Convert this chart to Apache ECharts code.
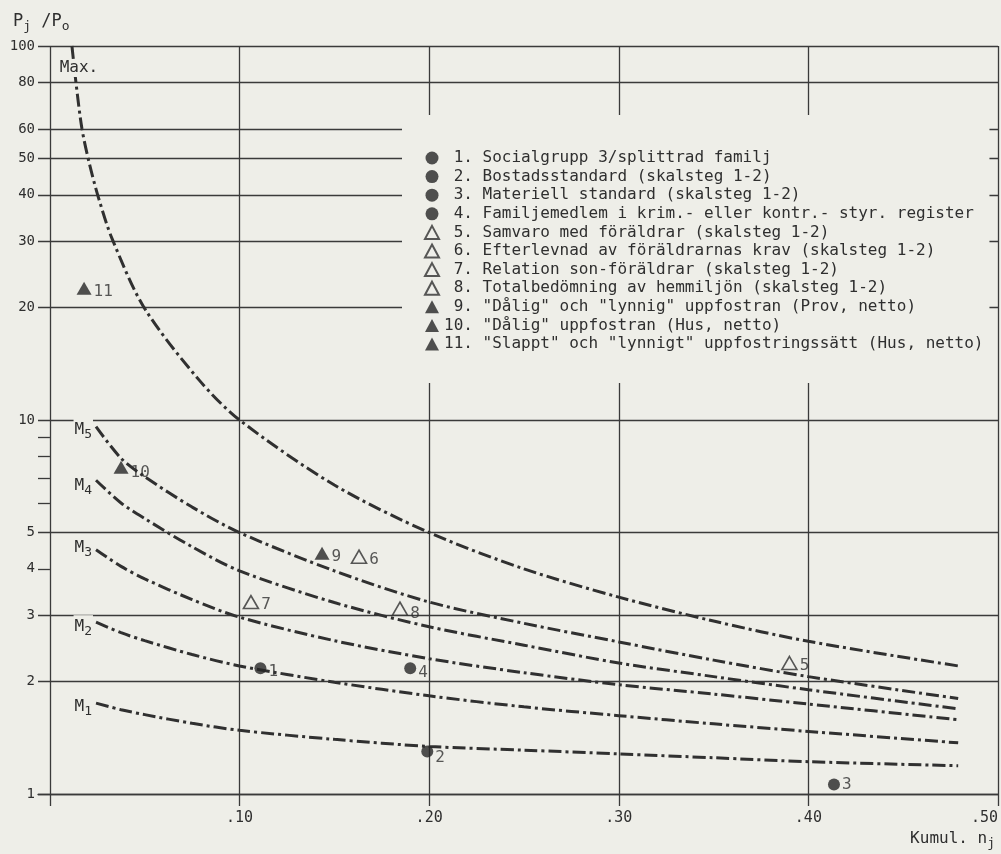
<!DOCTYPE html>
<html><head><meta charset="utf-8">
<script src="https://cdn.jsdelivr.net/npm/echarts@6/dist/echarts.min.js"></script>
<style>html,body{margin:0;padding:0;background:#eeeee8;}#c{width:1001px;height:854px;}</style>
</head><body><div id="c"></div>
<script>
// ---------- data ----------
const xTickValues = [0, 0.1, 0.2, 0.3, 0.4, 0.5];
const xTickLabels = ['', '.10', '.20', '.30', '.40', '.50'];
const yGridValues = [100, 80, 60, 50, 40, 30, 20, 10, 5, 3, 2, 1];
const yGridLabels = ['100', '80', '60', '50', '40', '30', '20', '10', '5', '3', '2', '1'];
const yShortTickValues = [4];
const yShortTickLabels = ['4'];
const yMinorTickValues = [9, 8, 7, 6];

const curveLabels = ['Max.', 'M{s|5}', 'M{s|4}', 'M{s|3}', 'M{s|2}', 'M{s|1}'];
const maxX = [0.0116, 0.0137, 0.0169, 0.021, 0.0258, 0.0327, 0.0496, 0.0786, 0.10, 0.15, 0.20, 0.25, 0.30, 0.35, 0.40, 0.479];
const maxY = [100, 80, 60, 48, 39, 30.6, 20, 12.8, 10, 6.7, 5.0, 4.0, 3.36, 2.9, 2.56, 2.2];
const m5X = [0.0243, 0.0375, 0.05, 0.075, 0.10, 0.15, 0.20, 0.25, 0.30, 0.35, 0.40, 0.479];
const m5Y = [9.6, 7.9, 7.05, 5.85, 5.0, 3.95, 3.26, 2.86, 2.55, 2.28, 2.06, 1.80];
const m4X = [0.0243, 0.0375, 0.05, 0.075, 0.10, 0.15, 0.20, 0.25, 0.30, 0.35, 0.40, 0.479];
const m4Y = [6.9, 6.0, 5.45, 4.58, 3.95, 3.25, 2.80, 2.50, 2.24, 2.06, 1.90, 1.69];
const m3X = [0.0243, 0.0375, 0.05, 0.075, 0.10, 0.15, 0.20, 0.25, 0.30, 0.35, 0.40, 0.479];
const m3Y = [4.5, 4.06, 3.76, 3.31, 2.97, 2.57, 2.30, 2.11, 1.96, 1.85, 1.74, 1.58];
const m2X = [0.0243, 0.0375, 0.05, 0.075, 0.10, 0.15, 0.20, 0.25, 0.30, 0.35, 0.40, 0.479];
const m2Y = [2.88, 2.70, 2.57, 2.36, 2.2, 1.99, 1.83, 1.71, 1.62, 1.54, 1.47, 1.37];
const m1X = [0.0243, 0.0375, 0.05, 0.075, 0.10, 0.15, 0.20, 0.25, 0.30, 0.35, 0.40, 0.479];
const m1Y = [1.75, 1.68, 1.63, 1.545, 1.48, 1.40, 1.34, 1.31, 1.28, 1.25, 1.22, 1.19];

const pointIds = ['1', '2', '3', '4', '5', '6', '7', '8', '9', '10', '11'];
const pointNames = [
  '1. Socialgrupp 3/splittrad familj',
  '2. Bostadsstandard (skalsteg 1-2)',
  '3. Materiell standard (skalsteg 1-2)',
  '4. Familjemedlem i krim.- eller kontr.- styr. register',
  '5. Samvaro med föräldrar (skalsteg 1-2)',
  '6. Efterlevnad av föräldrarnas krav (skalsteg 1-2)',
  '7. Relation son-föräldrar (skalsteg 1-2)',
  '8. Totalbedömning av hemmiljön (skalsteg 1-2)',
  '9. "Dålig" och "lynnig" uppfostran (Prov, netto)',
  '10. "Dålig" uppfostran (Hus, netto)',
  '11. "Slappt" och "lynnigt" uppfostringssätt (Hus, netto)'
];
const pointKinds = ['dot', 'dot', 'dot', 'dot', 'open', 'open', 'open', 'open', 'tri', 'tri', 'tri'];
const pointX = [0.111, 0.199, 0.4135, 0.190, 0.390, 0.163, 0.106, 0.1846, 0.1435, 0.0375, 0.018];
const pointY = [2.17, 1.30, 1.06, 2.17, 2.24, 4.31, 3.26, 3.13, 4.40, 7.48, 22.5];

// ---------- style ----------
const BG = '#eeeee8';
const INK = '#2f2f2f';
const FONT = 'DejaVu Sans Mono';
const xMin = -0.0063;
const dash = [13, 4, 3, 4];

const curves = [[maxX, maxY], [m5X, m5Y], [m4X, m4Y], [m3X, m3Y], [m2X, m2Y], [m1X, m1Y]];
const labelPlace = [
  { position: 'inside', offset: [7, 22] },
  { position: 'left', offset: [0, 3] },
  { position: 'left', offset: [0, 6] },
  { position: 'left', offset: [0, -2] },
  { position: 'left', offset: [0, 5] },
  { position: 'left', offset: [0, 4] }
];

const curveSeries = curves.map((c, k) => ({
  type: 'line',
  smooth: 0.3,
  symbol: 'circle',
  symbolSize: 0,
  showSymbol: true,
  silent: true,
  z: 3,
  lineStyle: { color: '#303030', width: 3, type: dash, cap: 'butt' },
  itemStyle: { color: 'rgba(0,0,0,0)' },
  label: { show: false },
  data: c[0].map((x, i) => i === 0 ? {
    value: [x, c[1][i]],
    label: Object.assign({
      show: true,
      formatter: curveLabels[k],
      distance: 3,
      fontFamily: FONT,
      fontSize: 16,
      color: INK,
      backgroundColor: BG,
      padding: [1, 1, 1, 1],
      rich: { s: { fontFamily: FONT, fontSize: 13, color: INK, padding: [9, 0, 0, 0] } }
    }, labelPlace[k])
  } : [x, c[1][i]])
}));

const lineOpt = (lbl) => lbl === null ? { show: false } : { show: true, formatter: lbl };
const markData = [];
yGridValues.forEach((v, i) => markData.push([{ coord: [xMin, v], label: lineOpt(yGridLabels[i]) }, { coord: [0.5, v] }]));
yShortTickValues.forEach((v, i) => markData.push([{ coord: [xMin, v], label: lineOpt(yShortTickLabels[i]) }, { coord: [0, v] }]));
yMinorTickValues.forEach(v => markData.push([{ coord: [xMin, v], label: lineOpt(null) }, { coord: [0, v] }]));
xTickValues.forEach(v => markData.push([{ coord: [v, 1], label: lineOpt(null) }, { coord: [v, 100] }]));

const gridSeries = {
  type: 'line',
  data: [],
  silent: true,
  z: 1,
  markLine: {
    z: 1,
    silent: true,
    animation: false,
    symbol: ['none', 'none'],
    lineStyle: { color: '#3a3a3a', width: 1.3, type: 'solid' },
    label: { position: 'start', distance: 3, fontFamily: FONT, fontSize: 14, color: INK },
    emphasis: { disabled: true },
    data: markData
  }
};

const pointSeries = pointNames.map((name, i) => {
  const kind = pointKinds[i];
  const isTri = kind !== 'dot';
  return {
    type: 'scatter',
    name: name,
    symbol: isTri ? 'triangle' : 'circle',
    symbolSize: isTri ? [15, 13] : 12,
    z: 5,
    itemStyle: kind === 'open'
      ? { color: BG, borderColor: INK, borderWidth: 1.6 }
      : { color: '#262626' },
    label: {
      show: true, formatter: pointIds[i], position: 'right', distance: 2,
      offset: [0, [4, 6, 0, 5, 3, 3, 3, 5, 3, 6, 4][i]],
      fontFamily: FONT, fontSize: 16, color: INK
    },
    data: [[pointX[i], pointY[i]]]
  };
});

const chart = echarts.init(document.getElementById('c'), null, { renderer: 'canvas' });
chart.setOption({
  backgroundColor: BG,
  animation: false,
  textStyle: { fontFamily: FONT },
  title: [
    { text: 'P{s|j} /P{s|o}', left: 8, top: 5,
      textStyle: { fontFamily: FONT, fontSize: 17, fontWeight: 'normal', color: INK,
        rich: { s: { fontFamily: FONT, fontSize: 13, color: INK, padding: [10, 0, 0, 0] } } } },
    { text: 'Kumul. n{s|j}', right: 1, bottom: 2,
      textStyle: { fontFamily: FONT, fontSize: 16, fontWeight: 'normal', color: INK,
        rich: { s: { fontFamily: FONT, fontSize: 13, color: INK, padding: [9, 0, 0, 0] } } } }
  ],
  grid: { left: 38, right: 2, top: 46, bottom: 60, containLabel: false },
  xAxis: {
    type: 'value', min: xMin, max: 0.5,
    axisLine: { show: true, lineStyle: { color: '#3a3a3a', width: 1.3 } },
    axisTick: { show: true, length: 12, customValues: xTickValues, lineStyle: { color: '#3a3a3a', width: 1.3 } },
    axisLabel: {
      customValues: xTickValues.slice(1), margin: 17, fontFamily: FONT, fontSize: 15, color: INK,
      alignMaxLabel: 'right',
      formatter: v => { const i = xTickValues.findIndex(t => Math.abs(t - v) < 1e-9); return i >= 0 ? xTickLabels[i] : ''; }
    },
    splitLine: { show: false }
  },
  yAxis: {
    type: 'log', min: 1, max: 100, logBase: 10,
    axisLine: { show: false }, axisTick: { show: false }, axisLabel: { show: false }, splitLine: { show: false }
  },
  legend: {
    orient: 'vertical', left: 402, top: 115, z: 10,
    padding: [34, 6, 30, 22],
    backgroundColor: BG,
    itemWidth: 14, itemHeight: 13, itemGap: 0.6,
    selectedMode: false,
    data: pointNames,
    formatter: n => (/^\d\./.test(n) ? ' ' : '') + n,
    textStyle: { fontFamily: FONT, fontSize: 16, lineHeight: 18, color: INK }
  },
  series: [gridSeries].concat(curveSeries, pointSeries)
});
</script></body></html>
